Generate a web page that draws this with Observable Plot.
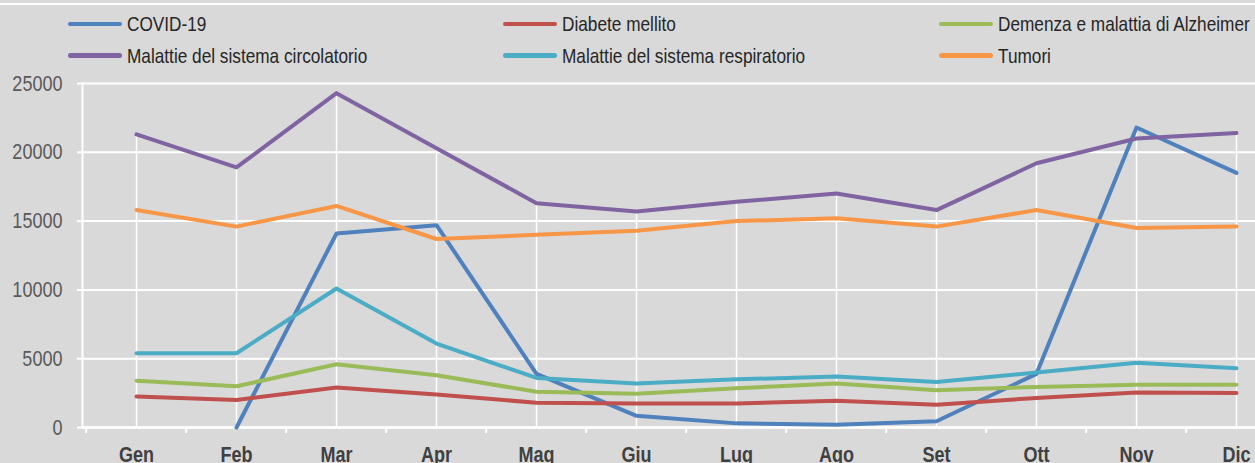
<!DOCTYPE html>
<html>
<head>
<meta charset="utf-8">
<script src="https://cdn.jsdelivr.net/npm/d3@7"></script>
<script src="https://cdn.jsdelivr.net/npm/@observablehq/plot@0.6"></script>
<style>
  html, body { margin: 0; padding: 0; background: #d9d9d9; width: 1255px; height: 463px; overflow: hidden; }
  #wrap { position: relative; width: 1255px; height: 463px; overflow: hidden; background: #d9d9d9; }
  #topline { position: absolute; left: 0; top: 3px; width: 1255px; height: 2px; background: #ffffff; }
  #legend { position: absolute; left: 0; top: 0; width: 1255px; height: 75px;
    font-family: "Liberation Sans", Arial, sans-serif;
    font-size: 21px; color: #262626; }
  .item { position: absolute; display: flex; align-items: center; white-space: nowrap; height: 24px; line-height: 24px; }
  .sw { width: 54px; height: 4.5px; border-radius: 2.5px; margin-right: 4.5px; flex: none; }
  .tx { display: inline-block; transform: scaleX(0.82); transform-origin: 0 50%; }
  #chart { position: absolute; left: 0; top: 75px; }
  #chart svg { max-width: none !important; }
</style>
</head>
<body>
<div id="wrap">
  <div id="topline"></div>
  <div id="legend"></div>
  <div id="chart"></div>
</div>
<script>
// ---- data ----
const months = ["Gen","Feb","Mar","Apr","Mag","Giu","Lug","Ago","Set","Ott","Nov","Dic"];
const covid        = [null, 0, 14100, 14700, 3900, 850, 300, 200, 450, 3900, 21800, 18500];
const diabete      = [2250, 2000, 2900, 2400, 1800, 1750, 1750, 1950, 1650, 2150, 2550, 2500];
const demenza      = [3400, 3000, 4600, 3800, 2600, 2450, 2850, 3200, 2700, 2950, 3100, 3100];
const circolatorio = [21300, 18900, 24300, 20300, 16300, 15700, 16400, 17000, 15800, 19200, 21000, 21400];
const respiratorio = [5400, 5400, 10100, 6100, 3600, 3200, 3500, 3700, 3300, 4000, 4700, 4300];
const tumori       = [15800, 14600, 16100, 13700, 14000, 14300, 15000, 15200, 14600, 15800, 14500, 14600];
const seriesNames = ["COVID-19", "Diabete mellito", "Demenza e malattia di Alzheimer",
  "Malattie del sistema circolatorio", "Malattie del sistema respiratorio", "Tumori"];
const seriesColors = ["#4f81bd", "#c0504d", "#9bbb59", "#8064a2", "#4bacc6", "#f79646"];
const yTicks = [0, 5000, 10000, 15000, 20000, 25000];

const seriesValues = [covid, diabete, demenza, circolatorio, respiratorio, tumori];

// ---- legend ----
const legend = document.getElementById("legend");
const colLeft = [68, 503, 939];
const rowTop = [12, 43.5];
seriesNames.forEach((name, i) => {
  const it = document.createElement("div");
  it.className = "item";
  it.style.left = colLeft[i % 3] + "px";
  it.style.top = rowTop[Math.floor(i / 3)] + "px";
  const sw = document.createElement("div");
  sw.className = "sw";
  sw.style.background = seriesColors[i];
  const tx = document.createElement("span");
  tx.className = "tx";
  tx.textContent = name;
  it.appendChild(sw);
  it.appendChild(tx);
  legend.appendChild(it);
});

// ---- tables ----
const long = [];
seriesValues.forEach((vals, s) => {
  vals.forEach((v, i) => {
    long.push({ series: seriesNames[s], month: months[i], value: v });
  });
});
const drops = months.map((m, i) => ({ month: m, max: d3.max(seriesValues, vals => vals[i]) }));

const W = 1300, mL = 82, mR = 11;
const bw = (W - mL - mR) / months.length;
const font = '"Liberation Sans", Arial, sans-serif';

const chart = Plot.plot({
  width: W,
  height: 388,
  marginLeft: mL,
  marginRight: mR,
  marginTop: 8,
  marginBottom: 36,
  style: { background: "transparent", overflow: "visible", fontFamily: font, maxWidth: "none" },
  x: { type: "band", domain: months, padding: 0, label: null },
  y: { domain: [0, 25000], label: null },
  color: { domain: seriesNames, range: seriesColors },
  marks: [
    Plot.gridY(yTicks, { stroke: "#ffffff", strokeOpacity: 1, strokeWidth: 2 }),
    Plot.ruleX(drops, { x: "month", y1: 0, y2: "max", stroke: "#ffffff", strokeWidth: 1.5 }),
    Plot.frame({ anchor: "left", stroke: "#ffffff", strokeWidth: 2 }),
    Plot.ruleY([0], { stroke: "#ffffff", strokeWidth: 2.5 }),
    Plot.axisY(yTicks, { tickSize: 5, tickPadding: 15, stroke: "#ffffff", strokeWidth: 2,
      fill: "#595959", fontSize: 22, fontFamily: font, tickFormat: d => String(d), label: null }),
    Plot.axisX({ tickSize: 0, tickPadding: 19, fill: "#404040", fontWeight: "bold",
      fontSize: 22, fontFamily: font, label: null }),
    Plot.axisX({ tickSize: 6, text: null, dx: -bw / 2, stroke: "#ffffff", strokeWidth: 2, label: null }),
    Plot.line(long, { x: "month", y: "value", z: "series", stroke: "series",
      strokeWidth: 4, strokeLinecap: "round", strokeLinejoin: "round" })
  ]
});
chart.style.maxWidth = "none";
document.getElementById("chart").appendChild(chart);

// narrow the axis text horizontally (condensed face look), keeping each anchor point fixed
chart.querySelectorAll("text").forEach(t => {
  const xs = t.x && t.x.baseVal && t.x.baseVal.numberOfItems ? t.x.baseVal.getItem(0).value : 0;
  const ys = t.y && t.y.baseVal && t.y.baseVal.numberOfItems ? t.y.baseVal.getItem(0).value : 0;
  const c = t.transform.baseVal.consolidate();
  let m = c ? c.matrix : chart.createSVGMatrix();
  m = m.translate(xs, ys).scaleNonUniform(0.82, 1).translate(-xs, -ys);
  t.setAttribute("transform", `matrix(${m.a},${m.b},${m.c},${m.d},${m.e},${m.f})`);
});
</script>
</body>
</html>
